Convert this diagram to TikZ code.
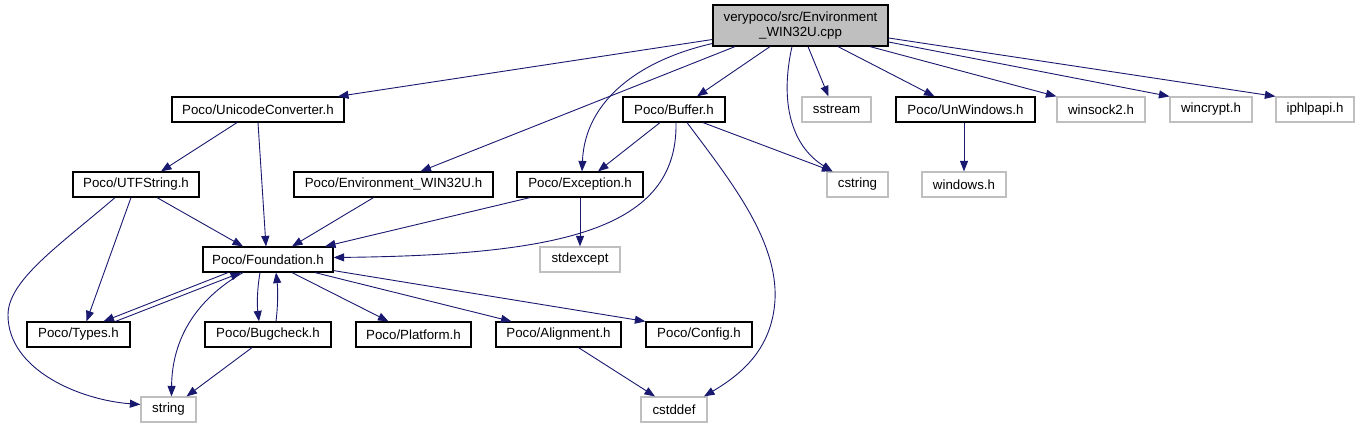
\documentclass[tikz,border=0pt]{standalone}
\usepackage{fontspec}
\setmainfont{Liberation Sans}
\usetikzlibrary{arrows.meta}
\definecolor{edgec}{HTML}{191970}
\definecolor{greyb}{HTML}{BFBFBF}
\begin{document}
\begin{tikzpicture}[x=1pt,y=-1pt,
  bx/.style={draw=black,line width=1.2pt,minimum height=25pt,inner sep=0pt,font=\fontsize{13.3}{14.5}\selectfont},
  gbx/.style={bx,draw=greyb},
  e/.style={draw=edgec,line width=0.9pt,-{Triangle[length=10.5pt,width=8pt]}}]
\fill[white] (0,0) rectangle (1359,427);
\useasboundingbox (0,0) rectangle (1359,427);
% nodes
\node[bx,fill=greyb,minimum width=175pt,minimum height=41pt,align=center] (root) at (800.5,25.5) {verypoco/src/Environment\\\_WIN32U.cpp};
\node[bx,minimum width=172pt] (uni) at (258,109.5) {Poco/UnicodeConverter.h};
\node[bx,minimum width=102pt] (buf) at (674,109.5) {Poco/Buffer.h};
\node[gbx,minimum width=69pt] (sstr) at (836.5,109.5) {sstream};
\node[bx,minimum width=139pt] (unw) at (965.5,109.5) {Poco/UnWindows.h};
\node[gbx,minimum width=88pt] (ws) at (1101,109.5) {winsock2.h};
\node[gbx,minimum width=82pt] (wc) at (1211,109.5) {wincrypt.h};
\node[gbx,minimum width=78pt] (ip) at (1315,109.5) {iphlpapi.h};
\node[bx,minimum width=126pt] (utf) at (136,184.5) {Poco/UTFString.h};
\node[bx,minimum width=199pt] (env) at (393.5,184.5) {Poco/Environment\_WIN32U.h};
\node[bx,minimum width=126pt] (exc) at (580,184.5) {Poco/Exception.h};
\node[gbx,minimum width=61pt] (cstr) at (857.5,184.5) {cstring};
\node[gbx,minimum width=84pt] (win) at (964,184.5) {windows.h};
\node[bx,minimum width=130pt] (fnd) at (268,259.5) {Poco/Foundation.h};
\node[gbx,minimum width=80pt] (sexc) at (580,259.5) {stdexcept};
\node[bx,minimum width=103pt] (typ) at (78.5,334.5) {Poco/Types.h};
\node[bx,minimum width=126pt] (bug) at (268,334.5) {Poco/Bugcheck.h};
\node[bx,minimum width=115pt] (plat) at (413.5,334.5) {Poco/Platform.h};
\node[bx,minimum width=125pt] (alig) at (558.5,334.5) {Poco/Alignment.h};
\node[bx,minimum width=106pt] (cfg) at (699,334.5) {Poco/Config.h};
\node[gbx,minimum width=55pt] (str) at (168.5,409.5) {string};
\node[gbx,minimum width=66pt] (cdef) at (674,409.5) {cstddef};
% edges from root
\draw[e] ([yshift=-14]root.west) -- ([xshift=80]uni.north);
\draw[e] ([xshift=-65.5]root.south) -- ([xshift=27]env.north);
\draw[e] ([yshift=-18]root.west) .. controls (640,60) and (585,100) .. ([xshift=2]exc.north);
\draw[e] ([xshift=-30.5]root.south) -- ([xshift=23]buf.north);
\draw[e] ([xshift=-8.5]root.south) .. controls (780,100) and (790,145) .. ([xshift=-25]cstr.north);
\draw[e] ([xshift=7.5]root.south) -- ([xshift=-8]sstr.north);
\draw[e] ([xshift=37.5]root.south) -- ([xshift=-31]unw.north);
\draw[e] ([xshift=69.5]root.south) -- (ws.north west);
\draw[e] ([yshift=-16.5]root.east) -- (wc.north west);
\draw[e] ([yshift=-12.5]root.east) -- (ip.north west);
% Buffer
\draw[e] ([xshift=-14]buf.south) -- ([xshift=18]exc.north);
\draw[e] ([xshift=29]buf.south) -- ([xshift=-25]cstr.north);
\draw[e] ([xshift=2]buf.south) .. controls (678,230) and (560,255) .. ([yshift=2]fnd.east);
\draw[e] ([xshift=13]buf.south) .. controls (730,180) and (778,240) .. (775,300) .. controls (772,350) and (740,375) .. ([xshift=30]cdef.north);
% UnicodeConverter
\draw[e] ([xshift=-21]uni.south) -- ([xshift=25]utf.north);
\draw[e] (uni.south) -- ([xshift=-2]fnd.north);
% UTFString
\draw[e] ([xshift=-5]utf.south) -- ([xshift=8]typ.north);
\draw[e] ([xshift=21]utf.south) -- ([xshift=-25]fnd.north);
\draw[e] ([xshift=-21]utf.south) .. controls (60,245) and (8,280) .. (8,315) .. controls (8,370) and (80,400) .. ([yshift=5]str.west);
% Environment, Exception, UnWindows
\draw[e] ([xshift=-20]env.south) -- ([xshift=24]fnd.north);
\draw[e] ([xshift=-50]exc.south) -- ([xshift=57]fnd.north);
\draw[e] (exc.south) -- (sexc.north);
\draw[e] ([xshift=-1.5]unw.south) -- (win.north);
% Foundation
\draw[e] ([xshift=-40]fnd.south) -- ([xshift=25]typ.north);
\draw[e] ([xshift=37]typ.north) -- ([xshift=-27]fnd.south);
\draw[e] ([xshift=-8]fnd.south) .. controls (257,290) and (257,305) .. ([xshift=-9]bug.north);
\draw[e] ([xshift=8]bug.north) .. controls (278,305) and (278,290) .. ([xshift=8]fnd.south);
\draw[e] ([xshift=24]fnd.south) -- ([xshift=-25]plat.north);
\draw[e] ([xshift=47]fnd.south) -- ([xshift=-47]alig.north);
\draw[e] ([yshift=2]fnd.south east) -- (cfg.north west);
\draw[e] ([xshift=-25]fnd.south) .. controls (195,300) and (172,340) .. ([xshift=3]str.north);
\draw[e] ([xshift=-16]bug.south) -- ([xshift=18]str.north);
\draw[e] ([xshift=20]alig.south) -- ([xshift=-19]cdef.north);
\end{tikzpicture}
\end{document}
